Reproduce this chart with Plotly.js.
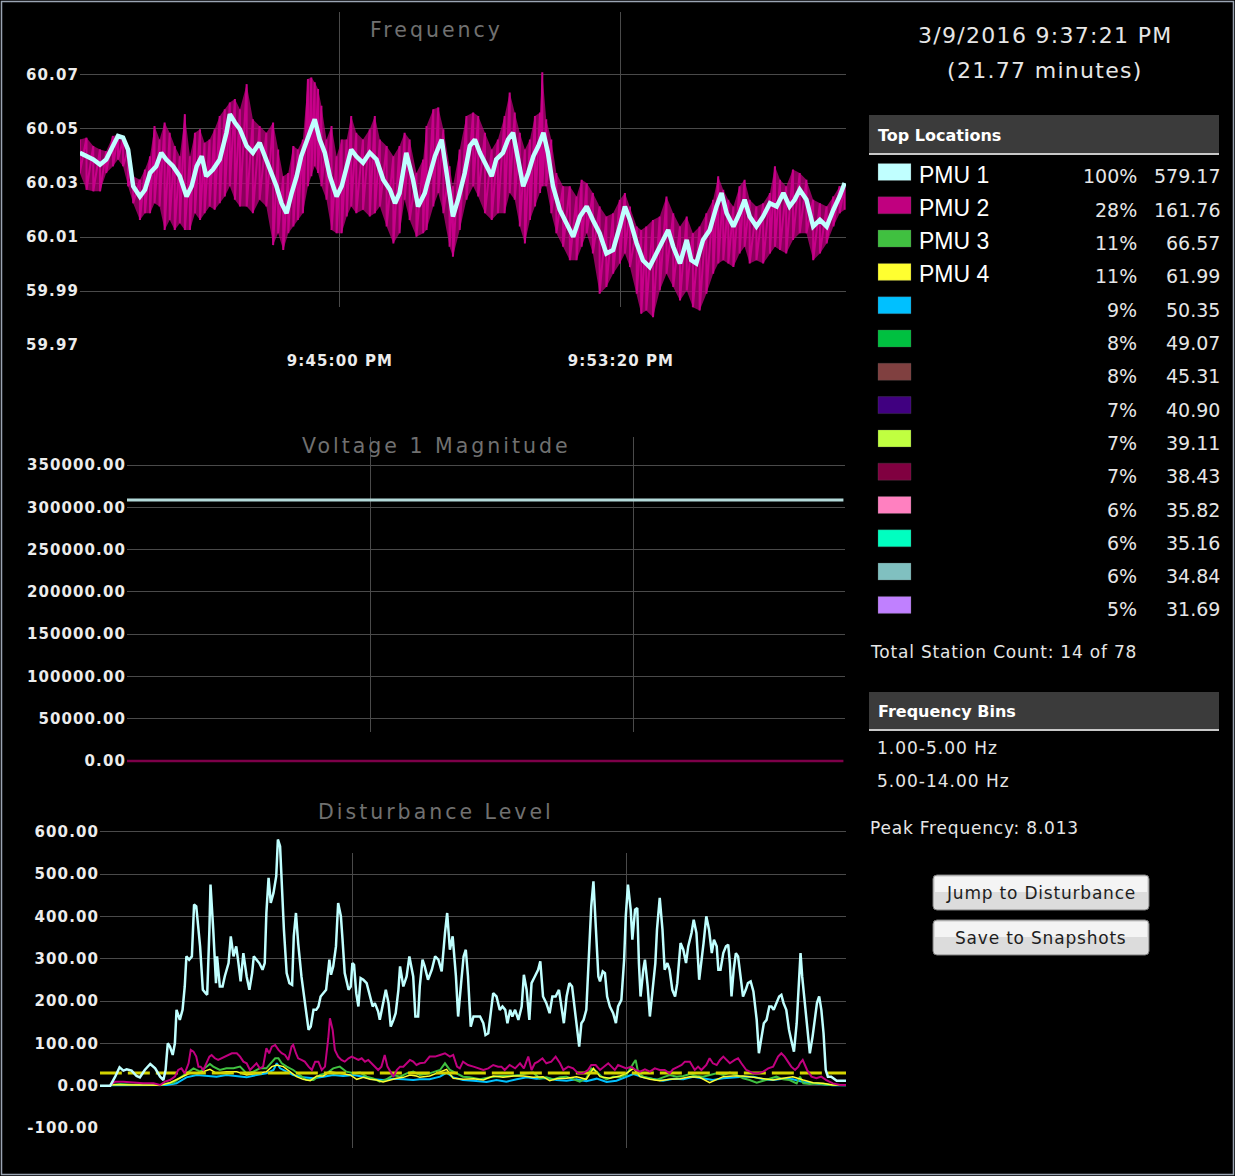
<!DOCTYPE html>
<html><head><meta charset="utf-8">
<script src="https://cdn.plot.ly/plotly-3.0.1.min.js"></script>
<style>
html,body{margin:0;padding:0;background:#000;}
#chart{width:1235px;height:1176px;}
g[class$="tick"] > text { letter-spacing: 1.1px; }
</style></head><body><div id="chart"></div>
<script>
// ---------------- DATA ----------------
const chartTitles = ['Frequency', 'Voltage 1 Magnitude', 'Disturbance Level'];
const eventStart = '3/9/2016 9:37:21 PM';
const durationMin = 21.77;

// elapsed seconds from 9:37:17 PM
const pmu1FreqT = [0,12,24,36,47,59,68,77,86,95,107,116,125,136,145,154,166,178,190,199,208,217,225,237,249,261,267,276,285,297,308,320,332,341,350,359,368,377,386,394,403,412,418,427,436,445,457,466,475,483,492,504,516,528,540,552,561,569,581,593,602,614,617,632,644,653,664,673,685,694,703,712,724,733,741,753,762,771,780,789,798,807,816,825,833,842,854,866,878,890,902,913,925,937,949,961,970,979,991,1002,1014,1026,1038,1047,1056,1068,1080,1088,1097,1109,1121,1133,1142,1151,1163,1174,1183,1192,1204,1216,1228,1240,1252,1263,1272,1281,1293,1305,1317,1329,1341,1352,1361];
const pmu1Freq = [60.0412,60.0399,60.0387,60.0368,60.0387,60.0437,60.0474,60.0468,60.0424,60.0288,
60.0250,60.0275,60.0337,60.0362,60.0412,60.0387,60.0362,60.0325,60.0250,60.0288,
60.0362,60.0399,60.0325,60.0350,60.0387,60.0486,60.0555,60.0524,60.0499,60.0437,
60.0412,60.0449,60.0387,60.0337,60.0288,60.0225,60.0188,60.0263,60.0325,60.0399,
60.0449,60.0499,60.0536,60.0461,60.0412,60.0325,60.0250,60.0288,60.0362,60.0424,
60.0399,60.0375,60.0412,60.0387,60.0312,60.0275,60.0225,60.0263,60.0412,60.0312,
60.0213,60.0263,
60.0288,60.0399,60.0461,60.0337,60.0176,60.0238,60.0337,60.0437,60.0461,60.0412,
60.0362,60.0325,60.0387,60.0412,60.0461,60.0486,60.0387,60.0288,60.0337,60.0399,
60.0437,60.0486,60.0412,60.0288,60.0201,60.0151,60.0101,60.0176,60.0213,60.0163,
60.0114,60.0039,60.0052,60.0139,60.0213,60.0163,60.0076,60.0014,59.9989,60.0039,
60.0089,60.0126,60.0064,60.0002,60.0089,60.0014,60.0002,60.0089,60.0126,60.0213,
60.0263,60.0188,60.0139,60.0188,60.0238,60.0176,60.0139,60.0176,60.0225,60.0213,
60.0263,60.0213,60.0238,60.0275,60.0238,60.0139,60.0163,60.0139,60.0201,60.0250,
60.0300];

const pmu2FreqT = [0,12,24,36,47,59,68,77,86,95,107,116,125,133,142,151,160,169,178,187,196,205,214,222,231,240,249,258,267,276,285,297,308,320,332,344,353,362,371,380,388,397,406,412,418,424,430,439,448,457,466,475,483,492,504,516,525,534,546,558,569,578,587,599,611,
617,629,638,647,658,664,676,688,700,709,721,733,744,756,765,774,783,792,801,810,819,823,830,839,848,860,872,884,893,902,913,925,937,949,961,970,979,991,999,1008,1020,1032,1044,1056,1068,1080,1091,1103,1115,1127,1136,1145,1154,1163,1174,1183,1192,1204,1216,1228,1237,1246,1257,1269,1281,1293,1305,1317,1329,1341,1352,1361];
const pmu2FreqHi = [60.0461,60.0468,60.0437,60.0424,60.0418,60.0474,60.0480,60.0461,60.0424,60.0325,
60.0312,60.0350,60.0399,60.0511,60.0461,60.0524,60.0486,60.0437,60.0399,60.0555,
60.0399,60.0486,60.0499,60.0449,60.0461,60.0499,60.0548,60.0573,60.0598,60.0611,
60.0573,60.0666,60.0536,60.0511,60.0486,60.0524,60.0424,60.0325,60.0337,60.0437,
60.0424,60.0461,60.0685,60.0691,60.0673,60.0648,60.0586,60.0461,60.0511,60.0399,
60.0461,60.0461,60.0548,60.0486,60.0461,60.0499,60.0548,60.0461,60.0437,60.0399,
60.0437,60.0486,60.0461,60.0337,60.0387,
60.0511,60.0573,60.0580,60.0499,60.0362,60.0288,60.0424,60.0548,60.0561,60.0548,
60.0486,60.0424,60.0461,60.0548,60.0635,60.0561,60.0486,60.0424,60.0461,60.0548,
60.0561,60.0710,60.0536,60.0461,60.0337,60.0288,60.0288,60.0250,60.0312,60.0300,
60.0263,60.0213,60.0176,60.0188,60.0238,60.0263,60.0213,60.0139,60.0126,60.0139,
60.0163,60.0176,60.0250,60.0188,60.0139,60.0176,60.0114,60.0139,60.0188,60.0238,
60.0325,60.0275,60.0238,60.0213,60.0288,60.0312,60.0238,60.0213,60.0225,60.0263,
60.0362,60.0312,60.0288,60.0350,60.0337,60.0312,60.0238,60.0225,60.0213,60.0250,
60.0288,60.0288];
const pmu2FreqLo = [60.0337,60.0275,60.0269,60.0269,60.0337,60.0362,60.0387,60.0362,60.0288,60.0225,
60.0163,60.0188,60.0188,60.0225,60.0213,60.0126,60.0163,60.0126,60.0151,60.0126,
60.0126,60.0188,60.0163,60.0188,60.0213,60.0201,60.0225,60.0250,60.0288,60.0238,
60.0213,60.0213,60.0188,60.0238,60.0213,60.0070,60.0114,60.0052,60.0114,60.0139,
60.0163,60.0188,60.0288,60.0325,60.0362,60.0337,60.0288,60.0238,60.0126,60.0114,
60.0114,60.0176,60.0213,60.0188,60.0201,60.0176,60.0188,60.0213,60.0139,60.0076,
60.0114,60.0238,60.0163,60.0101,60.0114,
60.0126,60.0213,60.0263,60.0188,60.0064,60.0027,60.0126,60.0238,60.0288,60.0250,
60.0188,60.0163,60.0188,60.0188,60.0263,60.0238,60.0139,60.0076,60.0163,60.0213,
60.0263,60.0288,60.0288,60.0188,60.0114,60.0064,60.0014,60.0014,60.0064,60.0114,
60.0039,59.9890,59.9915,59.9964,60.0002,60.0039,59.9989,59.9890,59.9816,59.9828,
59.9803,59.9902,59.9964,59.9915,59.9865,59.9902,59.9840,59.9828,59.9890,59.9964,
60.0002,60.0014,60.0002,59.9989,60.0039,60.0064,60.0002,60.0014,60.0002,60.0039,
60.0064,60.0052,60.0039,60.0089,60.0114,60.0114,60.0014,60.0039,60.0076,60.0139,
60.0188,60.0201];

const voltT = [1, 1363];
const volt1 = [308700, 308700];
const volt2 = [0, 0];

const dist1T = [1,20,29,37,44,50,59,68,74,83,93,102,111,117,121,125,129,134,138,141,147,152,156,159,164,169,173,177,184,189,194,197,201,203,208,213,215,220,225,229,236,240,245,250,254,258,263,269,274,279,282,287,292,298,302,305,309,313,318,323,326,330,333,337,342,347,352,355,359,363,369,375,382,386,391,396,400,404,409,414,420,423,427,432,436,441,444,448,455,459,462,465,469,473,477,482,488,493,499,503,509,512,518,523,528,532,537,541,546,549,555,561,566,570,573,577,582,585,590,594,600,
607,613,619,625,631,635,640,645,651,655,661,665,669,673,678,683,689,695,701,705,710,714,719,725,731,736,741,745,750,754,759,765,771,775,780,785,789,795,801,805,810,816,822,827,833,839,844,848,853,858,863,866,871,876,880,884,889,894,898,902,906,911,914,919,923,927,932,938,943,947,953,958,961,965,970,973,978,982,985,988,993,996,1001,1005,1010,1015,1018,1023,1028,1032,1037,1041,1046,1051,1055,1061,1066,1071,1075,1081,1085,1090,1095,1099,1103,1108,1113,1118,1122,1127,1130,1134,1139,1144,1148,1151,1154,1158,1162,1166,1170,1175,1180,1184,1189,1194,1200,1204,1209,1213,1218,1223,1227,1231,1236,1241,1245,1249,1254,1259,1263,1268,1273,1276,1280,1283,1288,1292,1297,1302,1306,1310,1314,1318,1322,1326,1330,1336,1346,1355,1363];
const dist1 = [0,0,21.3,43.4,35.5,38.7,35.5,22.9,19.7,37.1,
51.3,41.0,21.3,13.4,37.1,100.2,92.3,72.6,100.2,179.2,
155.5,179.2,234.4,305.4,297.6,305.4,427.8,423.8,329.1,226.5,
218.6,214.7,368.6,475.1,368.6,242.3,305.4,234.4,234.4,258.1,
289.7,352.8,305.4,329.1,289.7,246.3,313.3,258.1,226.5,266.0,
305.4,297.6,289.7,273.9,289.7,408.0,490.9,431.7,455.4,494.9,
581.7,565.9,463.3,368.6,266.0,242.3,238.4,352.8,408.0,337.0,
258.1,202.8,131.8,139.7,179.2,179.2,187.1,210.7,218.6,226.5,
297.6,262.0,281.8,329.1,431.7,400.2,344.9,266.0,226.5,234.4,
289.7,285.7,218.6,187.1,254.1,250.2,242.3,218.6,187.1,195.0,
175.2,155.5,195.0,226.5,195.0,139.7,155.5,171.3,226.5,281.8,
234.4,258.1,305.4,273.9,258.1,163.4,163.4,234.4,297.6,281.8,
250.2,
273.9,305.4,297.6,269.9,360.7,408.0,321.2,352.8,258.1,163.4,
250.2,305.4,321.2,258.1,139.7,163.4,163.4,163.4,147.6,120.0,
123.9,163.4,218.6,210.7,179.2,187.1,179.2,147.6,179.2,163.4,
179.2,155.5,187.1,262.0,226.5,155.5,242.3,258.1,273.9,293.6,
210.7,195.0,171.3,210.7,210.7,226.5,187.1,147.6,210.7,242.3,
234.4,202.8,147.6,92.3,147.6,155.5,179.2,305.4,423.8,483.0,
392.3,258.1,246.3,269.9,266.0,210.7,187.1,171.3,147.6,187.1,
202.8,297.6,400.2,475.1,415.9,344.9,415.9,419.9,289.7,210.7,
273.9,297.6,234.4,163.4,226.5,289.7,368.6,443.6,368.6,273.9,
289.7,273.9,226.5,210.7,242.3,337.0,321.2,289.7,329.1,360.7,
392.3,360.7,250.2,289.7,337.0,400.2,368.6,313.3,344.9,329.1,
273.9,273.9,313.3,329.1,333.1,289.7,210.7,273.9,313.3,305.4,
258.1,210.7,226.5,242.3,246.3,222.6,155.5,76.6,116.0,147.6,
155.5,187.1,187.1,179.2,195.0,210.7,214.7,195.0,179.2,131.8,
108.1,80.5,147.6,210.7,313.3,258.1,195.0,131.8,76.6,116.0,
163.4,195.0,210.7,179.2,123.9,37.1,21.3,21.3,11.8,11.8,
11.8];

const dist2T = [20,29,44,62,80,99,111,120,129,138,144,150,156,163,167,172,177,181,185,190,196,201,205,211,217,223,229,236,242,251,257,263,269,275,281,287,293,299,305,310,315,321,327,333,339,345,351,354,359,363,369,375,382,388,394,400,406,412,418,421,426,430,436,442,448,455,461,467,473,479,485,491,497,503,509,515,521,526,531,537,543,549,555,561,567,573,579,585,594,
603,613,622,631,640,646,653,658,664,673,683,692,701,710,719,728,734,740,749,759,768,775,780,783,789,795,801,809,816,825,833,841,847,856,865,874,883,892,898,906,914,921,929,935,941,947,953,962,971,979,987,996,1005,1014,1023,1032,1041,1047,1057,1063,1069,1078,1087,1093,1099,1108,1114,1120,1127,1133,1139,1145,1151,1160,1166,1172,1181,1194,1203,1212,1221,1230,1239,1245,1251,1257,1263,1270,1276,1279,1284,1288,1292,1300,1309,1318,1327,1339,1352,1363];
const dist2 = [1.6,9.5,9.5,7.1,5.5,5.5,1.6,9.5,13.4,21.3,
37.1,41.0,29.2,52.9,84.5,80.5,68.7,45.0,45.0,37.1,
52.9,68.7,72.6,64.7,60.8,64.7,68.7,72.6,76.6,76.6,
68.7,56.8,52.9,37.1,45.0,52.9,41.0,45.0,88.4,76.6,
92.3,96.3,84.5,76.6,72.6,60.8,92.3,96.3,76.6,64.7,
60.8,56.8,45.0,37.1,56.8,56.8,37.1,45.0,112.1,159.4,
131.8,84.5,68.7,60.8,56.8,64.7,68.7,64.7,60.8,64.7,
56.8,60.8,52.9,45.0,37.1,45.0,72.6,45.0,33.1,21.3,
37.1,45.0,45.0,52.9,60.8,56.8,48.9,52.9,54.5,
68.7,68.7,72.6,76.6,68.7,72.6,45.0,41.0,56.8,48.9,
45.0,41.0,37.1,41.0,48.9,45.0,45.0,37.1,48.9,41.0,
52.9,41.0,60.8,68.7,37.1,52.9,56.8,64.7,52.9,56.8,
68.7,52.9,37.1,45.0,41.0,29.2,29.2,37.1,48.9,48.9,
37.1,45.0,52.9,45.0,37.1,48.9,45.0,41.0,45.0,37.1,
33.1,38.7,33.1,41.0,37.1,37.1,29.2,38.7,45.0,48.9,
56.8,56.8,37.1,45.0,37.1,48.9,64.7,52.9,48.9,60.8,
68.7,60.8,52.9,60.8,64.7,52.9,37.1,29.2,29.2,33.1,
41.0,45.0,68.7,76.6,68.7,56.8,45.0,37.1,45.0,52.9,
60.8,48.9,37.1,21.3,17.4,21.3,13.4,5.5,1.6,1.6];

const dist3T = [20,38,62,86,111,123,135,147,159,172,184,196,202,208,220,232,245,257,269,281,293,305,315,321,327,333,342,354,366,378,391,403,415,427,439,451,464,476,488,500,512,524,537,549,561,573,585,
603,622,631,640,652,664,676,695,713,731,749,768,780,792,804,816,829,841,853,865,877,889,898,908,917,926,938,950,962,975,979,984,993,1005,1017,1029,1041,1054,1066,1078,1090,1102,1114,1127,1139,1151,1163,1175,1187,1200,1212,1224,1236,1248,1260,1273,1279,1285,1297,1309,1321,1333,1346,1363];
const dist3 = [1.6,3.9,2.4,3.2,0.8,5.5,7.1,17.4,29.2,41.0,
33.1,45.0,51.3,45.0,37.1,41.0,41.0,45.0,29.2,33.1,
41.0,41.0,56.8,64.7,64.7,52.9,45.0,37.1,25.3,13.4,
13.4,25.3,29.2,41.0,45.0,33.1,29.2,30.8,21.3,17.4,
9.5,15.0,25.3,21.3,29.2,33.1,25.3,
29.2,37.1,52.9,37.1,29.2,21.3,19.7,15.0,19.7,22.9,
22.9,25.3,29.2,30.8,17.4,19.7,15.0,19.7,21.3,15.0,
9.5,17.4,41.0,33.1,21.3,15.0,21.3,19.7,25.3,52.9,
60.8,29.2,21.3,17.4,13.4,19.7,25.3,21.3,22.9,27.6,
22.9,21.3,25.3,29.2,25.3,30.8,25.3,17.4,13.4,7.1,
11.8,17.4,21.3,15.0,13.4,5.5,21.3,5.5,3.9,5.5,
3.2,1.6,1.6,0.8];

const dist4T = [20,62,111,129,147,165,184,202,214,232,251,269,287,305,315,324,336,348,360,372,385,397,409,421,433,445,458,470,482,494,506,518,531,543,555,567,579,
585,603,622,634,646,664,683,701,719,737,756,774,792,810,822,835,853,871,889,902,914,932,950,962,975,987,1005,1023,1041,1060,1078,1096,1114,1127,1139,1157,1175,1194,1212,1230,1248,1266,1285,1303,1321,1339,1363];
const dist4 = [2.4,2.4,0.8,7.1,17.4,29.2,30.8,38.7,29.2,33.1,
33.1,25.3,29.2,33.1,45.0,48.9,45.0,33.1,21.3,15.0,
11.8,22.9,22.9,33.1,30.8,27.6,25.3,15.0,19.7,15.0,
13.4,8.7,13.4,17.4,19.7,25.3,22.9,
19.7,22.9,33.1,38.7,17.4,15.0,16.6,13.4,22.9,19.7,
22.9,22.9,19.7,21.3,11.8,16.6,17.4,21.3,15.0,41.0,
21.3,17.4,22.9,29.2,41.0,21.3,15.0,11.8,15.0,16.6,
21.3,19.7,7.1,15.0,21.3,22.9,22.9,19.7,16.6,13.4,
17.4,21.3,13.4,7.1,5.5,1.6,1.6];

const dist5T = [20,62,111,123,141,159,178,196,214,232,251,269,287,305,318,324,330,342,354,372,391,409,427,445,464,482,500,518,537,555,573,
585,603,622,634,646,664,683,707,725,743,762,780,798,816,835,853,871,889,908,926,944,962,975,993,1011,1029,1048,1066,1084,1102,1120,1139,1157,1175,1194,1212,1230,1248,1266,1285,1303,1321,1339,1363];
const dist5 = [0.8,0.8,0.8,1.6,5.5,19.7,25.3,22.9,21.3,25.3,
22.9,19.7,25.3,29.2,37.1,52.9,41.0,33.1,25.3,19.7,
17.4,21.3,25.3,22.9,25.3,21.3,15.0,13.4,16.6,15.0,
13.4,
15.0,15.0,21.3,30.8,19.7,13.4,11.8,8.7,13.4,9.5,
15.0,19.7,16.6,18.2,13.4,11.8,15.0,10.3,16.6,8.7,
11.8,21.3,27.6,19.7,15.0,11.8,16.6,15.0,21.3,16.6,
13.4,17.4,19.7,21.3,21.3,15.0,13.4,16.6,15.0,8.7,
5.5,2.4,0.8,0.8];

const threshT = [1, 1363];
const thresh = [30, 30];

// axis ticks
const freqTicks = [59.99, 60.01, 60.03, 60.05, 60.07];
const freqBottomTick = [59.97];
const voltTicks = [50000, 100000, 150000, 200000, 250000, 300000, 350000];
const voltBottomTick = [0];
const distTicks = [0, 100, 200, 300, 400, 500, 600];
const distBottomTick = [-100];
const distBottomLabel = ['-100.00'];

// top locations table
const locNames = ['PMU 1','PMU 2','PMU 3','PMU 4','','','','','','','','','',''];
const locColors = ['#c0ffff','#c0007f','#40c040','#ffff30','#00c0ff','#00c040','#804040','#400080','#c0ff40','#800040','#ff80c0','#00ffc0','#80c0c0','#c080ff'];
const locPct = [100,28,11,11,9,8,8,7,7,7,6,6,6,5];
const locVal = [579.17,161.76,66.57,61.99,50.35,49.07,45.31,40.90,39.11,38.43,35.82,35.16,34.84,31.69];
const stationCount = 14, stationTotal = 78;
const freqBins = ['1.00-5.00 Hz', '5.00-14.00 Hz'];
const peakFrequency = '8.013';
const buttonLabels = ['Jump to Disturbance', 'Save to Snapshots'];

// ---------------- LAYOUT HELPERS ----------------
const W = 1235, H = 1176;
const PX = v => v / W, PY = v => 1 - v / H;
const T0 = Date.UTC(2016, 2, 9, 21, 37, 17);
const ts = arr => arr.map(s => T0 + s * 1000);
const TICK0 = Date.UTC(2016, 2, 9, 21, 45, 0);
const DT = 500000;
const freqRange = [T0 + 400, T0 + 1363400];
const voltRange = [T0 + 1000, T0 + 1366000];
const distRange = [T0 + 1300, T0 + 1363000];
const GRID = '#4a4a4a';
const axFont = {family: 'DejaVu Sans', size: 15, color: '#ececec', weight: 'bold'};

const line = (x, y, color, width, xa, ya, extra) => Object.assign({
  type: 'scatter', mode: 'lines', x: ts(x), y: y, xaxis: xa, yaxis: ya,
  line: {color: color, width: width}, hoverinfo: 'skip', showlegend: false
}, extra || {});
const empty = (xa, ya) => ({type: 'scatter', mode: 'lines', x: [], y: [], xaxis: xa, yaxis: ya, showlegend: false, hoverinfo: 'skip'});

// zigzag for PMU2 frequency spread
const zzT = [], zzY = [];
pmu2FreqT.forEach((s, i) => { zzT.push(s, s); zzY.push(pmu2FreqHi[i], pmu2FreqLo[i]); });

const traces = [
  empty('x', 'y'), empty('x2', 'y2'), empty('x3', 'y3'),
  line(pmu2FreqT, pmu2FreqLo, 'rgba(192,0,127,0)', 0, 'x4', 'y4'),
  line(pmu2FreqT, pmu2FreqHi, 'rgba(192,0,127,0)', 0, 'x4', 'y4', {fill: 'tonexty', fillcolor: 'rgba(192,0,127,0.72)'}),
  line(zzT, zzY, '#c8008a', 2, 'x4', 'y4'),
  line(pmu1FreqT, pmu1Freq, '#c0ffff', 4.5, 'x4', 'y4'),
  empty('x4', 'y7'),
  line(voltT, volt2, '#7d0049', 2.5, 'x5', 'y5'),
  line(voltT, volt1, '#b4dada', 3, 'x5', 'y5'),
  empty('x5', 'y8'),
  line(dist5T, dist5, '#00c0ff', 2, 'x6', 'y6'),
  line(dist3T, dist3, '#40c040', 2, 'x6', 'y6'),
  line(dist4T, dist4, '#ffff30', 1.5, 'x6', 'y6'),
  line(threshT, thresh, '#d4d400', 3, 'x6', 'y6', {line: {color: '#d4d400', width: 3, dash: '22px,6px'}}),
  line(dist2T, dist2, '#c0007f', 2, 'x6', 'y6'),
  line(dist1T, dist1, '#c0ffff', 2.5, 'x6', 'y6'),
  empty('x6', 'y9')
];

function gridX(dom, range, anchor) {
  return {type: 'date', domain: dom, range: range, anchor: anchor, showgrid: true, gridcolor: GRID, gridwidth: 1,
    tick0: TICK0, dtick: DT, showticklabels: false, ticks: '', zeroline: false, showline: false};
}
function hiddenY(dom, anchor) {
  return {domain: dom, range: [0, 1], anchor: anchor, visible: false, showgrid: false, zeroline: false};
}
function mainX(dom, range, anchor, labels) {
  return {type: 'date', domain: dom, range: range, anchor: anchor, showgrid: false, zeroline: false, showline: false,
    tick0: TICK0, dtick: DT, tickformat: '%-I:%M:%S %p', showticklabels: labels,
    ticks: labels ? 'outside' : '', ticklen: 2, tickcolor: 'rgba(0,0,0,0)', tickfont: axFont};
}
function mainY(dom, range, anchor, vals) {
  return {domain: dom, range: range, anchor: anchor, tickvals: vals, tickformat: '.2f', showgrid: true, gridcolor: GRID,
    gridwidth: 1, zeroline: false, showline: false, ticks: '', tickfont: axFont};
}
function labelY(over, range, anchor, vals, text) {
  const o = {overlaying: over, anchor: anchor, side: 'left', range: range, tickvals: vals, tickformat: '.2f',
    showgrid: false, zeroline: false, showline: false, ticks: '', tickfont: axFont};
  if (text) o.ticktext = text;
  return o;
}

const freqYR = [59.97, 60.09333], voltYR = [-10642, 383108], distYR = [-116.5, 639.5];

// ---------------- ANNOTATIONS ----------------
const F = (size, color, family, weight) => ({family: family || 'DejaVu Sans', size: size, color: color, weight: weight || 'normal'});
function ann(text, x, y, font, xanchor, ls) {
  return {text: ls ? '<span style="letter-spacing:' + ls + 'px">' + text + '</span>' : text,
    x: PX(x), y: PY(y), xref: 'paper', yref: 'paper', xanchor: xanchor || 'left', yanchor: 'middle',
    showarrow: false, font: font};
}
const annotations = [];
const shapes = [];
const titleY = [30, 446, 812];
chartTitles.forEach((t, i) => annotations.push(ann(t, 436, titleY[i], F(20.5, '#707070'), 'center', 3)));
annotations.push(ann(eventStart, 1045, 35, F(22, '#e6e6e6'), 'center', 1.3));
annotations.push(ann('(' + durationMin.toFixed(2) + ' minutes)', 1045, 70, F(22, '#e6e6e6'), 'center', 1.3));

function headerBar(y0, y1, text) {
  shapes.push({type: 'rect', xref: 'paper', yref: 'paper', x0: PX(869), x1: PX(1219), y0: PY(y1), y1: PY(y0),
    fillcolor: '#3b3b3b', line: {width: 0}, layer: 'below'});
  shapes.push({type: 'line', xref: 'paper', yref: 'paper', x0: PX(869), x1: PX(1219), y0: PY(y1 + 1), y1: PY(y1 + 1),
    line: {color: '#c8c8c8', width: 2}});
  annotations.push(ann(text, 876, (y0 + y1) / 2 + 1, F(16, '#ffffff', 'DejaVu Sans', 'bold'), 'left'));
}
headerBar(115, 153, 'Top Locations');
locNames.forEach((n, i) => {
  const yc = 172 + i * 33.3;
  shapes.push({type: 'rect', xref: 'paper', yref: 'paper', x0: PX(878), x1: PX(911), y0: PY(yc + 8.5), y1: PY(yc - 8.5),
    fillcolor: locColors[i], line: {color: 'rgba(90,90,90,0.6)', width: 0.5}});
  if (n) annotations.push(ann(n, 917, yc + 2.5, F(23, '#ffffff', 'Liberation Sans'), 'left'));
  annotations.push(ann(locPct[i] + '%', 1139, yc + 4.5, F(19, '#e6e6e6'), 'right'));
  annotations.push(ann(locVal[i].toFixed(2), 1222, yc + 4.5, F(19, '#e6e6e6'), 'right'));
});
annotations.push(ann('Total Station Count: ' + stationCount + ' of ' + stationTotal, 868, 652, F(17, '#e6e6e6'), 'left', 0.8));
headerBar(692, 729, 'Frequency Bins');
freqBins.forEach((b, i) => annotations.push(ann(b, 875, 748 + i * 33, F(17, '#e6e6e6'), 'left', 1)));
annotations.push(ann('Peak Frequency: ' + peakFrequency, 868, 828, F(17, '#e6e6e6'), 'left', 0.8));

function rr(x0, y0, x1, y1, r) {
  const X = PX, Y = PY;
  return 'M' + X(x0 + r) + ',' + Y(y0) + ' L' + X(x1 - r) + ',' + Y(y0) + ' Q' + X(x1) + ',' + Y(y0) + ' ' + X(x1) + ',' + Y(y0 + r) +
    ' L' + X(x1) + ',' + Y(y1 - r) + ' Q' + X(x1) + ',' + Y(y1) + ' ' + X(x1 - r) + ',' + Y(y1) +
    ' L' + X(x0 + r) + ',' + Y(y1) + ' Q' + X(x0) + ',' + Y(y1) + ' ' + X(x0) + ',' + Y(y1 - r) +
    ' L' + X(x0) + ',' + Y(y0 + r) + ' Q' + X(x0) + ',' + Y(y0) + ' ' + X(x0 + r) + ',' + Y(y0) + ' Z';
}
buttonLabels.forEach((b, i) => {
  const y0 = 875 + i * 45, y1 = y0 + 35;
  shapes.push({type: 'path', xref: 'paper', yref: 'paper', path: rr(933, y0, 1149, y1, 4), fillcolor: '#dcdcdc', line: {color: '#7c7c7c', width: 1}});
  shapes.push({type: 'rect', xref: 'paper', yref: 'paper', x0: PX(935), x1: PX(1147), y0: PY(y0 + 17), y1: PY(y0 + 2), fillcolor: '#f4f4f4', line: {width: 0}});
  annotations.push(ann(b, 1041, (y0 + y1) / 2 + 0.5, F(17, '#1e1e1e'), 'center', 0.8));
});
// outer frame
shapes.push({type: 'rect', xref: 'paper', yref: 'paper', x0: PX(1.5), x1: PX(1233.5), y0: PY(1174.5), y1: PY(1.5),
  line: {color: '#9aa4b2', width: 1.5}, fillcolor: 'rgba(0,0,0,0)'});

const layout = {
  width: W, height: H, autosize: false,
  margin: {l: 0, r: 0, t: 0, b: 0, pad: 0},
  paper_bgcolor: '#000000', plot_bgcolor: 'rgba(0,0,0,0)',
  showlegend: false,
  font: {family: 'DejaVu Sans', color: '#efefef'},
  xaxis: gridX([PX(80), PX(846)], freqRange, 'y'),
  yaxis: hiddenY([PY(307), PY(12)], 'x'),
  xaxis2: gridX([PX(127), PX(845)], voltRange, 'y2'),
  yaxis2: hiddenY([PY(732), PY(437)], 'x2'),
  xaxis3: gridX([PX(100), PX(846)], distRange, 'y3'),
  yaxis3: hiddenY([PY(1148), PY(853)], 'x3'),
  xaxis4: mainX([PX(80), PX(846)], freqRange, 'y4', true),
  yaxis4: mainY([PY(345), PY(12)], freqYR, 'x4', freqTicks),
  xaxis5: mainX([PX(127), PX(845)], voltRange, 'y5', false),
  yaxis5: mainY([PY(770), PY(437)], voltYR, 'x5', voltTicks),
  xaxis6: mainX([PX(100), PX(846)], distRange, 'y6', false),
  yaxis6: mainY([PY(1135), PY(815)], distYR, 'x6', distTicks),
  yaxis7: labelY('y4', freqYR, 'x4', freqBottomTick),
  yaxis8: labelY('y5', voltYR, 'x5', voltBottomTick),
  yaxis9: labelY('y6', distYR, 'x6', distBottomTick, distBottomLabel),
  annotations: annotations,
  shapes: shapes
};

Plotly.newPlot('chart', traces, layout, {staticPlot: true, displayModeBar: false});
</script></body></html>
